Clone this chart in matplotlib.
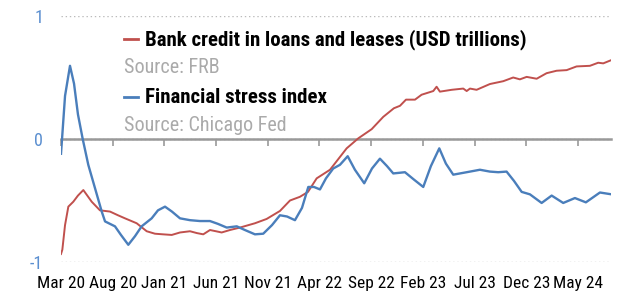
import matplotlib
matplotlib.use("Agg")
import matplotlib.pyplot as plt
from matplotlib.lines import Line2D

# months since Mar 2020
tick_pos = [0, 5, 10, 15, 20, 25, 30, 35, 40, 45, 50]
tick_labels = ["Mar 20", "Aug 20", "Jan 21", "Jun 21", "Nov 21", "Apr 22",
               "Sep 22", "Feb 23", "Jul 23", "Dec 23", "May 24"]

# financial stress index (Chicago Fed)
fsi_m = [0.0, 0.39, 0.87, 1.26, 1.64, 2.10, 2.64, 3.29, 3.94, 4.26, 4.74, 5.22,
         5.80, 6.51, 7.16, 7.80, 8.77, 9.38, 10.06, 10.73, 11.51, 12.48, 13.44,
         14.41, 15.18, 16.03, 17.0, 17.79, 18.76, 19.56, 20.41, 21.18, 21.86,
         22.63, 23.31, 23.92, 24.47, 25.05, 25.63, 26.33, 26.98, 27.73, 28.43,
         29.33, 30.08, 30.85, 31.53, 32.14, 33.27, 34.14, 35.04, 35.78, 36.59,
         37.23, 37.94, 39.24, 40.52, 41.49, 42.29, 43.10, 43.81, 44.56, 45.36,
         46.49, 47.46, 48.58, 49.71, 50.77, 52.13, 53.26]
fsi_v = [-0.12, 0.35, 0.595, 0.45, 0.2, 0.0, -0.21, -0.40, -0.59, -0.67, -0.69,
         -0.71, -0.78, -0.86, -0.79, -0.71, -0.645, -0.58, -0.55, -0.59, -0.645,
         -0.66, -0.667, -0.667, -0.69, -0.72, -0.71, -0.74, -0.775, -0.77, -0.70,
         -0.62, -0.63, -0.66, -0.56, -0.39, -0.39, -0.41, -0.32, -0.24, -0.21,
         -0.14, -0.25, -0.36, -0.24, -0.16, -0.22, -0.28, -0.27, -0.33, -0.39,
         -0.22, -0.076, -0.2, -0.29, -0.27, -0.25, -0.265, -0.27, -0.265, -0.34,
         -0.43, -0.45, -0.52, -0.46, -0.52, -0.48, -0.515, -0.435, -0.45]

# bank credit in loans and leases (USD trillions, rebased)
bank_m = [0.0, 0.13, 0.39, 0.71, 1.19, 1.64, 2.16, 2.97, 3.77, 4.74, 5.51, 6.19,
          7.32, 8.29, 9.09, 9.86, 10.71, 11.51, 12.48, 13.15, 13.76, 14.41, 14.99,
          15.54, 16.34, 17.31, 18.76, 19.89, 21.18, 22.15, 23.11, 23.89, 24.73,
          26.02, 27.63, 28.75, 30.05, 31.17, 32.2, 32.79, 33.37, 34.24, 34.88,
          36.01, 36.33, 36.65, 37.79, 38.91, 39.24, 39.56, 40.20, 41.49, 42.78,
          43.74, 44.39, 45.04, 46.01, 46.97, 47.94, 48.91, 49.87, 51.16, 51.96,
          52.45, 53.19]
bank_v = [-0.935, -0.90, -0.70, -0.55, -0.51, -0.46, -0.415, -0.51, -0.58, -0.59,
          -0.62, -0.645, -0.685, -0.75, -0.77, -0.775, -0.78, -0.76, -0.75, -0.765,
          -0.775, -0.74, -0.75, -0.76, -0.74, -0.72, -0.685, -0.65, -0.585, -0.50,
          -0.47, -0.43, -0.32, -0.25, -0.076, 0.005, 0.08, 0.18, 0.25, 0.27, 0.32,
          0.32, 0.36, 0.39, 0.425, 0.385, 0.40, 0.41, 0.39, 0.41, 0.40, 0.447,
          0.47, 0.50, 0.485, 0.505, 0.49, 0.535, 0.555, 0.56, 0.59, 0.595, 0.62,
          0.615, 0.64]

plt.rcParams['font.family'] = ['Roboto Condensed', 'DejaVu Sans']

red = "#c0504d"
blue = "#4a7ebb"
gray = "#999999"

fig = plt.figure(figsize=(6.25, 2.95), dpi=100)
ax = fig.add_axes([61 / 625, 1 - 262 / 295, 550 / 625, 246 / 295])

ax.plot(bank_m, bank_v, color=red, lw=1.4, zorder=3)
ax.plot(fsi_m, fsi_v, color=blue, lw=1.7, zorder=4)

ax.set_xlim(0, 53.2)
ax.set_ylim(-1, 1)
ax.set_yticks([-1, 0, 1])
ax.set_yticklabels(["-1", "0", "1"])
ax.tick_params(axis='y', length=0, pad=13, labelcolor="#5b8fd0", labelsize=13)
ax.grid(axis='y', linestyle=(0, (1, 2)), color="#bbbbbb", lw=1)
for s in ax.spines.values():
    s.set_visible(False)

# zero line carries the ticks
ax.spines['bottom'].set_visible(True)
ax.spines['bottom'].set_position(('data', 0))
ax.spines['bottom'].set_color(gray)
ax.spines['bottom'].set_linewidth(1.8)
ax.set_xticks(tick_pos)
ax.set_xticklabels([])
ax.tick_params(axis='x', length=5, width=1.2, color=gray, direction='out')

# month labels along the bottom
lab = ax.secondary_xaxis('bottom')
lab.set_xticks(tick_pos, labels=tick_labels)
lab.tick_params(length=0, pad=10, labelsize=12.5)
lab.spines['bottom'].set_visible(False)

# legend block
fig.add_artist(Line2D([124 / 625, 138 / 625], [1 - 39 / 295] * 2, color=red, lw=2))
fig.add_artist(Line2D([124 / 625, 138 / 625], [1 - 97 / 295] * 2, color=blue, lw=2))
fig.text(145 / 625, 1 - 45 / 295, "Bank credit in loans and leases (USD trillions)",
         fontsize=15, fontweight='bold', color="black", va='baseline')
fig.text(124 / 625, 1 - 73 / 295, "Source: FRB", fontsize=14.5, color="#aaaaaa", va='baseline')
fig.text(145 / 625, 1 - 103 / 295, "Financial stress index",
         fontsize=15, fontweight='bold', color="black", va='baseline')
fig.text(124 / 625, 1 - 131 / 295, "Source: Chicago Fed", fontsize=14.5, color="#aaaaaa",
         va='baseline')

fig.savefig("out.png", dpi=100)
